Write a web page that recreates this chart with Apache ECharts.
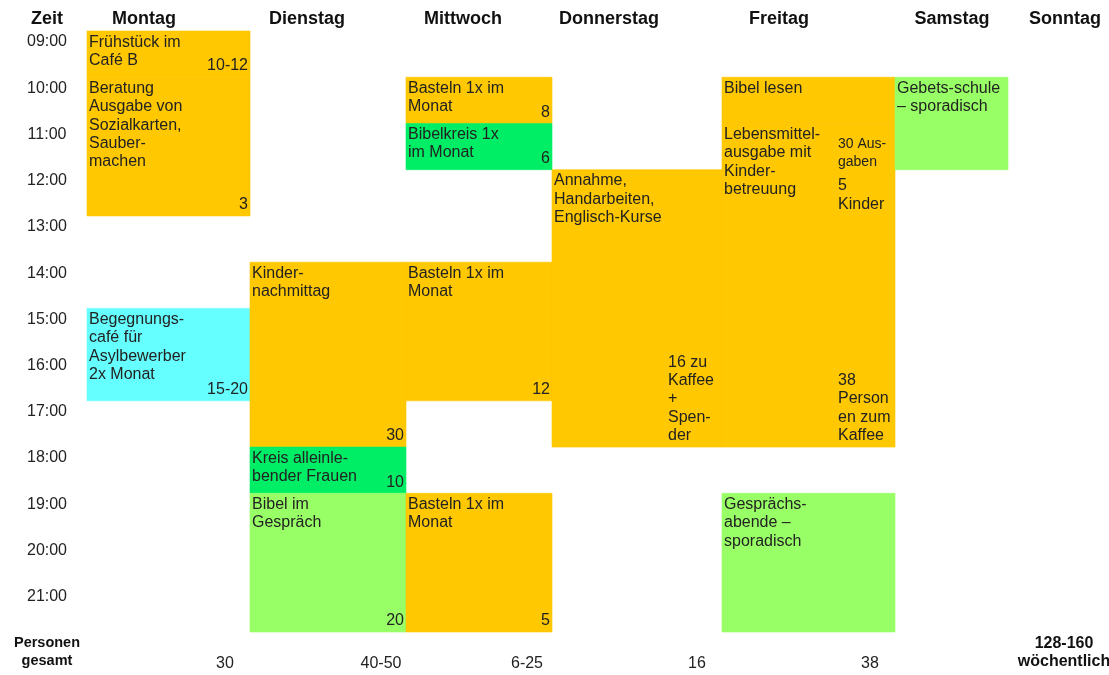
<!DOCTYPE html>
<html>
<head>
<meta charset="utf-8">
<script src="https://cdn.jsdelivr.net/npm/echarts@6/dist/echarts.min.js"></script>
<style>
html,body{margin:0;padding:0;background:#fff;}
#c{width:1109px;height:675px;}
</style>
</head>
<body>
<div id="c"></div>
<script>
// ---------- DATA ----------
const days = ['Montag', 'Dienstag', 'Mittwoch', 'Donnerstag', 'Freitag', 'Samstag', 'Sonntag'];
const timeLabels = ['09:00','10:00','11:00','12:00','13:00','14:00','15:00','16:00','17:00','18:00','19:00','20:00','21:00'];
// [dayIndex, startHour, endHour, kind, text, persons]
const activities = [
  [0, 9, 10, 'orange', 'Frühstück im\nCafé B', '10-12'],
  [0, 10, 13, 'orange', 'Beratung\nAusgabe von\nSozialkarten,\nSauber-\nmachen', '3'],
  [0, 15, 17, 'cyan', 'Begegnungs-\ncafé für\nAsylbewerber\n2x Monat', '15-20'],
  [1, 14, 18, 'orange', 'Kinder-\nnachmittag', '30'],
  [1, 18, 19, 'green', 'Kreis alleinle-\nbender Frauen', '10'],
  [1, 19, 22, 'lime', 'Bibel im\nGespräch', '20'],
  [2, 10, 11, 'orange', 'Basteln 1x im\nMonat', '8'],
  [2, 11, 12, 'green', 'Bibelkreis 1x\nim Monat', '6'],
  [2, 14, 17, 'orange', 'Basteln 1x im\nMonat', '12'],
  [2, 19, 22, 'orange', 'Basteln 1x im\nMonat', '5'],
  [3, 12, 18, 'orange', 'Annahme,\nHandarbeiten,\nEnglisch-Kurse', ''],
  [4, 10, 11, 'orange', 'Bibel lesen', ''],
  [4, 11, 18, 'orange', 'Lebensmittel-\nausgabe mit\nKinder-\nbetreuung', ''],
  [4, 19, 22, 'lime', 'Gesprächs-\nabende –\nsporadisch', ''],
  [5, 10, 12, 'lime', 'Gebets-schule\n– sporadisch', '']
];
// extra notes inside blocks: [dayIndex, hour, anchor ('top'|'bottom'), text]
const notes = [
  [3, 18, 'bottom', '16 zu\nKaffee\n+\nSpen-\nder'],
  [4, 11.24, 'top', '30 Aus-\ngaben'],
  [4, 12.15, 'top', '5\nKinder'],
  [4, 18, 'bottom', '38\nPerson\nen zum\nKaffee']
];
const totals = ['30', '40-50', '6-25', '16', '38', '', '128-160\nwöchentlich'];
const cornerHeader = 'Zeit';
const cornerFooter = 'Personen\ngesamt';

// ---------- LAYOUT / STYLE ----------
const colWidths = [163, 156, 146, 170, 173, 113, 101];
const colStart = [];
colWidths.reduce((acc, w, i) => { colStart[i] = acc; return acc + w; }, 0);
const totalWidth = colWidths.reduce((a, b) => a + b, 0);
const kindColors = { orange: '#FFC800', cyan: '#66FFFF', green: '#00EE66', lime: '#99FF66' };
const FONT = '"Liberation Sans", Arial, Helvetica, sans-serif';
const TXT = '#222222';

const chart = echarts.init(document.getElementById('c'), null, { renderer: 'canvas' });

function renderBlock(params, api) {
  const a = activities[params.dataIndex];
  const d = api.value(0);
  const p0 = api.coord([colStart[d], api.value(1)]);
  const p1 = api.coord([colStart[d] + colWidths[d], api.value(2)]);
  const fill = kindColors[a[3]];
  return {
    type: 'group',
    children: [
      { type: 'rect', shape: { x: p0[0], y: p0[1], width: p1[0] - p0[0], height: p1[1] - p0[1] },
        style: { fill: fill, stroke: fill, lineWidth: 0.6 } },
      { type: 'text', z2: 10, style: { text: a[4], x: p0[0] + 2, y: p0[1] + 2, fill: TXT,
        font: '16px ' + FONT, lineHeight: 18.4, verticalAlign: 'top', align: 'left' } },
      { type: 'text', z2: 10, style: { text: a[5], x: p1[0] - 2, y: p1[1] - 2, fill: TXT,
        font: '16px ' + FONT, lineHeight: 18.4, verticalAlign: 'bottom', align: 'right' } }
    ]
  };
}

function renderNote(params, api) {
  const n = notes[params.dataIndex];
  const d = n[0];
  const p = api.coord([colStart[d] + 116, api.value(1)]);
  const small = n[3].indexOf('Aus-') >= 0;
  return {
    type: 'text', z2: 20,
    style: { text: n[3], x: p[0], y: n[2] === 'bottom' ? p[1] - 2 : p[1], fill: TXT,
      font: (small ? '14px ' : '16px ') + FONT, lineHeight: 18.4,
      verticalAlign: n[2], align: 'left' }
  };
}

function renderFrame(params, api) {
  const i = params.dataIndex; // 0..6 day columns, 7 = corner column
  const top = api.coord([0, 9]);
  const bot = api.coord([0, 22]);
  const children = [];
  if (i < days.length) {
    const cx = api.coord([colStart[i] + 57, 9])[0];
    children.push({ type: 'text', style: { text: days[i], x: cx, y: top[1] - 12, fill: '#111',
      font: 'bold 18px ' + FONT, align: 'center', verticalAlign: 'middle' } });
    const t = totals[i];
    if (t) {
      if (t.indexOf('\n') >= 0) {
        children.push({ type: 'text', style: { text: t, x: api.coord([colStart[i] + 56, 22])[0], y: bot[1] + 2,
          fill: '#111', font: 'bold 16px ' + FONT, lineHeight: 18.5, align: 'center', verticalAlign: 'top' } });
      } else {
        children.push({ type: 'text', style: { text: t, x: api.coord([colStart[i] + colWidths[i] - 25, 22])[0],
          y: bot[1] + 32, fill: TXT, font: '16px ' + FONT, align: 'center', verticalAlign: 'middle' } });
      }
    }
  } else {
    const cx = api.coord([-40, 9])[0];
    children.push({ type: 'text', style: { text: cornerHeader, x: cx, y: top[1] - 12, fill: '#111',
      font: 'bold 18px ' + FONT, align: 'center', verticalAlign: 'middle' } });
    children.push({ type: 'text', style: { text: cornerFooter, x: cx, y: bot[1] + 2, fill: '#111',
      font: 'bold 14.5px ' + FONT, lineHeight: 18, align: 'center', verticalAlign: 'top' } });
  }
  return { type: 'group', children: children };
}

const option = {
  backgroundColor: '#ffffff',
  animation: false,
  grid: { left: 87, right: 0, top: 31, bottom: 43, containLabel: false },
  xAxis: { type: 'value', min: 0, max: totalWidth, show: false },
  yAxis: {
    type: 'value', inverse: true, min: 9, max: 22, interval: 1,
    axisLine: { show: false }, axisTick: { show: false }, splitLine: { show: false },
    axisLabel: {
      showMaxLabel: false, margin: 40, align: 'center', verticalAlign: 'top', lineHeight: 22,
      fontFamily: FONT, fontSize: 16, color: '#222',
      formatter: (v) => timeLabels[Math.round(v) - 9] || ''
    }
  },
  series: [
    { type: 'custom', renderItem: renderBlock, clip: false,
      data: activities.map(a => [a[0], a[1], a[2]]), encode: { x: 0, y: [1, 2] } },
    { type: 'custom', renderItem: renderNote, clip: false, z: 3,
      data: notes.map(n => [n[0], n[1]]), encode: { x: 0, y: 1 } },
    { type: 'custom', renderItem: renderFrame, clip: false, z: 4,
      data: days.map((d, i) => [i, 9]).concat([[7, 9]]), encode: { x: 0, y: 1 } }
  ]
};
chart.setOption(option);
</script>
</body>
</html>
